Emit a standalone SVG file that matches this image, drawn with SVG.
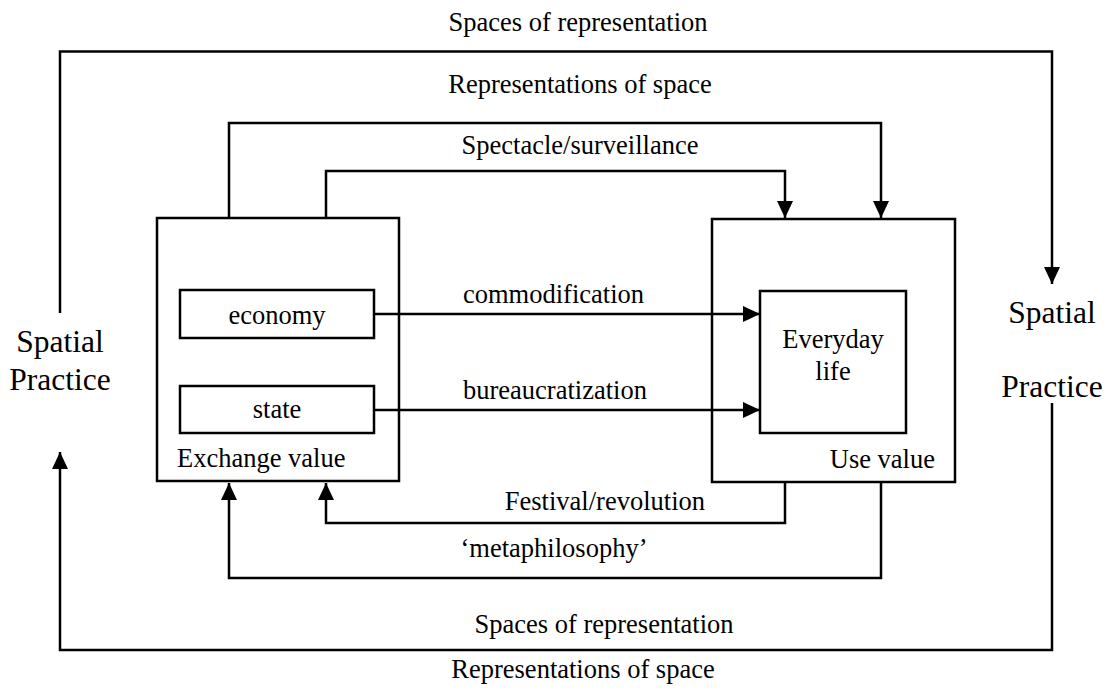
<svg xmlns="http://www.w3.org/2000/svg" width="1106" height="699" viewBox="0 0 1106 699">
<style>
text{font-family:"Liberation Serif","Times New Roman",serif;fill:#000;font-size:26.5px}
.big{font-size:31.5px}
.box{fill:none;stroke:#000;stroke-width:2.5}
.ln{fill:none;stroke:#000;stroke-width:2.5}
.ar{marker-end:url(#ah)}
</style>
<defs>
<marker id="ah" markerUnits="userSpaceOnUse" markerWidth="18" markerHeight="18" viewBox="0 0 18 18" refX="17" refY="9" orient="auto">
<path d="M0,1 L17,9 L0,17 Z" fill="#000"/>
</marker>
</defs>
<rect width="1106" height="699" fill="#fff"/>
<g id="connectors">
<polyline class="ln" points="60,313 60,51.5 1052,51.5 1052,284" marker-end="url(#ah)"/>
<polyline class="ln" points="229,218 229,123 881,123 881,218" marker-end="url(#ah)"/>
<polyline class="ln" points="326,218 326,171 785,171 785,218" marker-end="url(#ah)"/>
<line class="ln" x1="374" y1="314" x2="760" y2="314" marker-end="url(#ah)"/>
<line class="ln" x1="374" y1="410" x2="760" y2="410" marker-end="url(#ah)"/>
<polyline class="ln" points="785,482 785,523 326,523 326,483" marker-end="url(#ah)"/>
<polyline class="ln" points="881,482 881,578 229,578 229,483" marker-end="url(#ah)"/>
<polyline class="ln" points="1052,403 1052,650 60,650 60,452" marker-end="url(#ah)"/>
<text x="578" y="31" text-anchor="middle">Spaces of representation</text>
<text x="580" y="93" text-anchor="middle">Representations of space</text>
<text x="580" y="154" text-anchor="middle">Spectacle/surveillance</text>
<text x="463" y="303">commodification</text>
<text x="463" y="399">bureaucratization</text>
<text x="705" y="510" text-anchor="end">Festival/revolution</text>
<text x="554" y="557" text-anchor="middle">‘metaphilosophy’</text>
<text x="604" y="633" text-anchor="middle">Spaces of representation</text>
<text x="583" y="678" text-anchor="middle">Representations of space</text>
</g>
<g id="spatial-practice-left">
<text class="big" x="60" y="352" text-anchor="middle">Spatial</text>
<text class="big" x="60" y="390" text-anchor="middle">Practice</text>
</g>
<g id="spatial-practice-right">
<text class="big" x="1052" y="323" text-anchor="middle">Spatial</text>
<text class="big" x="1052" y="397" text-anchor="middle">Practice</text>
</g>
<g id="exchange-value">
<rect class="box" x="157" y="218" width="242" height="263"/>
<text x="177" y="467">Exchange value</text>
</g>
<g id="economy">
<rect class="box" x="180" y="290" width="194" height="48"/>
<text x="277" y="324" text-anchor="middle">economy</text>
</g>
<g id="state">
<rect class="box" x="180" y="386" width="194" height="47"/>
<text x="277" y="418" text-anchor="middle">state</text>
</g>
<g id="use-value">
<rect class="box" x="712" y="219" width="243" height="263"/>
<text x="935" y="468" text-anchor="end">Use value</text>
</g>
<g id="everyday-life">
<rect class="box" x="760" y="291" width="146" height="142"/>
<text x="833" y="348" text-anchor="middle">Everyday</text>
<text x="833" y="380" text-anchor="middle">life</text>
</g>
</svg>
